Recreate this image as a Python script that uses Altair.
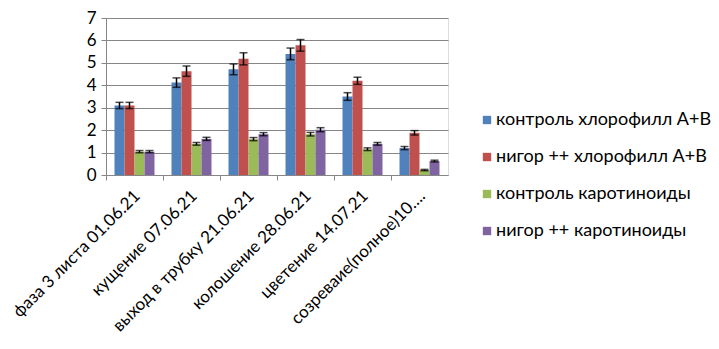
import altair as alt
import pandas as pd

categories = ["фаза 3 листа 01.06.21", "кущение 07.06.21", "выход в трубку 21.06.21",
              "колошение 28.06.21", "цветение 14.07.21", "созреваие(полное)10…."]
series = ["контроль хлорофилл А+В", "нигор ++ хлорофилл А+В",
          "контроль каротиноиды", "нигор ++ каротиноиды"]
colors = ["#4F81BD", "#C0504D", "#9BBB59", "#8064A2"]

ctrl_chl = [3.10, 4.12, 4.71, 5.40, 3.50, 1.20]
nigor_chl = [3.10, 4.63, 5.18, 5.78, 4.20, 1.88]
ctrl_car = [1.04, 1.39, 1.60, 1.82, 1.15, 0.22]
nigor_car = [1.04, 1.61, 1.82, 2.02, 1.39, 0.62]

err_ctrl_chl = [0.14, 0.21, 0.24, 0.26, 0.17, 0.07]
err_nigor_chl = [0.14, 0.23, 0.27, 0.26, 0.16, 0.10]
err_ctrl_car = [0.05, 0.06, 0.07, 0.08, 0.06, 0.03]
err_nigor_car = [0.05, 0.07, 0.07, 0.09, 0.06, 0.04]

values = [ctrl_chl, nigor_chl, ctrl_car, nigor_car]
errors = [err_ctrl_chl, err_nigor_chl, err_ctrl_car, err_nigor_car]

rows = []
for s, vals, errs in zip(series, values, errors):
    for c, v, e in zip(categories, vals, errs):
        rows.append({"cat": c, "series": s, "value": v, "lo": v - e, "hi": v + e})
df = pd.DataFrame(rows)

FONT = "Lato"

x = alt.X("cat:N", sort=categories, title=None,
          scale=alt.Scale(paddingInner=0, paddingOuter=0),
          axis=alt.Axis(labelAngle=-45, labelFontSize=17, labelFont=FONT, labelColor="black",
                        labelAlign="right", labelBaseline="middle", labelPadding=13, labelOffset=3,
                        bandPosition=0, tickSize=5, tickColor="#868686",
                        domainColor="#868686", labelLimit=400))
xo = alt.XOffset("series:N", sort=series,
                 scale=alt.Scale(paddingInner=0, paddingOuter=0.85))

yscale = alt.Scale(domain=[0, 7], nice=False)
yaxis = alt.Axis(values=[0, 1, 2, 3, 4, 5, 6, 7], labelFontSize=17, labelFont=FONT,
                 labelColor="black", gridColor="#868686", domainColor="#868686",
                 tickColor="#868686", tickSize=5, labelPadding=5, labelOverlap=False)

bars = alt.Chart(df).mark_bar().encode(
    x=x, xOffset=xo,
    y=alt.Y("value:Q", title=None, scale=yscale, axis=yaxis),
    color=alt.Color("series:N", sort=series,
                    scale=alt.Scale(domain=series, range=colors),
                    legend=alt.Legend(title=None, orient="none", legendX=372, legendY=93,
                                      symbolType="square", symbolSize=70, symbolStrokeWidth=0,
                                      labelFontSize=18, labelFont=FONT, labelColor="black",
                                      rowPadding=19, labelLimit=400, labelOffset=0))
)

rules = alt.Chart(df).mark_rule(color="black", strokeWidth=1.5).encode(
    x=x, xOffset=xo, y=alt.Y("lo:Q", title=None, scale=yscale, axis=yaxis), y2="hi:Q")
caps_hi = alt.Chart(df).mark_tick(color="black", size=8, thickness=1.5).encode(
    x=x, xOffset=xo, y=alt.Y("hi:Q", title=None, scale=yscale, axis=yaxis))
caps_lo = alt.Chart(df).mark_tick(color="black", size=8, thickness=1.5).encode(
    x=x, xOffset=xo, y=alt.Y("lo:Q", title=None, scale=yscale, axis=yaxis))

chart = alt.layer(bars, rules, caps_hi, caps_lo).properties(
    width=342, height=157,
    autosize=alt.AutoSizeParams(type="none"),
    padding={"left": 98, "top": 10, "right": 263, "bottom": 166},
).configure_view(stroke=None).configure(background="white")

chart.save("out.html", embed_options={"renderer": "svg", "actions": False})
